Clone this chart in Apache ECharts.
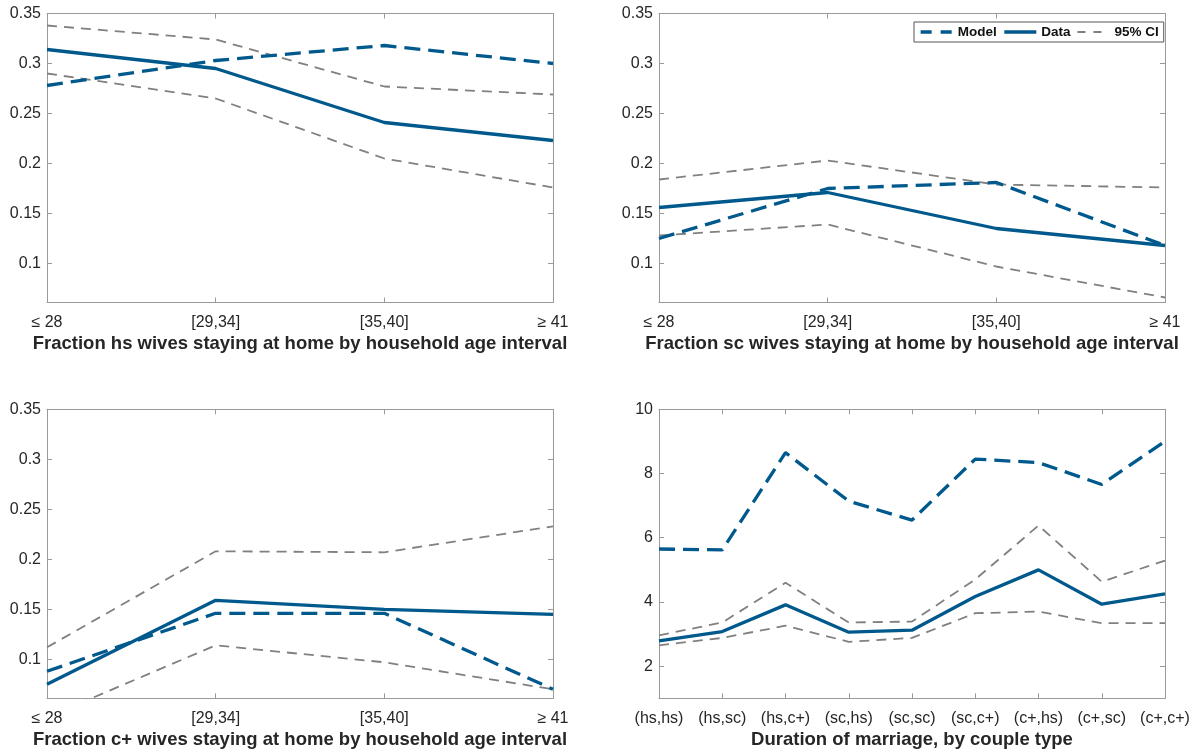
<!DOCTYPE html>
<html>
<head>
<meta charset="utf-8">
<script src="https://cdn.jsdelivr.net/npm/echarts@6/dist/echarts.min.js"></script>
<style>
  html, body { margin: 0; padding: 0; background: #fff; }
  #chart { width: 1195px; height: 754px; }
</style>
</head>
<body>
<div id="chart"></div>
<script>
// Categories
const ageIntervals = ['≤ 28', '[29,34]', '[35,40]', '≥ 41'];
const coupleTypes = ['(hs,hs)', '(hs,sc)', '(hs,c+)', '(sc,hs)', '(sc,sc)', '(sc,c+)', '(c+,hs)', '(c+,sc)', '(c+,c+)'];

// Fraction of high-school (hs) wives staying at home
const hsModel = [0.278, 0.303, 0.318, 0.300];
const hsData = [0.314, 0.295, 0.241, 0.223];
const hsCiHigh = [0.338, 0.324, 0.277, 0.269];
const hsCiLow = [0.290, 0.265, 0.205, 0.176];

// Fraction of some-college (sc) wives staying at home
const scModel = [0.125, 0.175, 0.181, 0.118];
const scData = [0.156, 0.171, 0.135, 0.118];
const scCiHigh = [0.184, 0.203, 0.179, 0.176];
const scCiLow = [0.128, 0.139, 0.097, 0.066];

// Fraction of college-plus (c+) wives staying at home
const cpModel = [0.088, 0.146, 0.146, 0.070];
const cpData = [0.075, 0.159, 0.150, 0.145];
const cpCiHigh = [0.112, 0.208, 0.207, 0.233];
const cpCiLow = [0.042, 0.114, 0.097, 0.070];

// Duration of marriage by couple type
const durModel = [5.65, 5.62, 8.65, 7.14, 6.55, 8.45, 8.34, 7.66, 9.00];
const durData = [2.79, 3.08, 3.91, 3.06, 3.12, 4.17, 5.00, 3.93, 4.25];
const durCiHigh = [2.96, 3.36, 4.60, 3.36, 3.39, 4.70, 6.38, 4.63, 5.29];
const durCiLow = [2.65, 2.88, 3.26, 2.76, 2.88, 3.65, 3.70, 3.34, 3.34];

// Tick values
const fracTicks = [0.1, 0.15, 0.2, 0.25, 0.3, 0.35];
const durTicks = [2, 4, 6, 8, 10];

const FONT = 'Liberation Sans, Arial, Helvetica, sans-serif';
const BLUE = '#00598c';
const GRAY = '#808080';
const AXIS = '#9a9a9a';
const TEXT = '#262626';

const panels = [
  { left: 47, top: 13.5, cats: ageIntervals, yMin: 0.061, yMax: 0.35, ticks: fracTicks,
    title: 'Fraction hs wives staying at home by household age interval',
    model: hsModel, data: hsData, hi: hsCiHigh, lo: hsCiLow },
  { left: 659, top: 13.5, cats: ageIntervals, yMin: 0.061, yMax: 0.35, ticks: fracTicks,
    title: 'Fraction sc wives staying at home by household age interval',
    model: scModel, data: scData, hi: scCiHigh, lo: scCiLow },
  { left: 47, top: 409.3, cats: ageIntervals, yMin: 0.061, yMax: 0.35, ticks: fracTicks,
    title: 'Fraction c+ wives staying at home by household age interval',
    model: cpModel, data: cpData, hi: cpCiHigh, lo: cpCiLow },
  { left: 659, top: 409.3, cats: coupleTypes, yMin: 1, yMax: 10, ticks: durTicks,
    title: 'Duration of marriage, by couple type',
    model: durModel, data: durData, hi: durCiHigh, lo: durCiLow }
];

const grid = [], xAxis = [], yAxis = [], series = [];
const tickStyle = { show: true, inside: true, length: 5, lineStyle: { color: AXIS, width: 1 } };
const lineAxis = { show: true, lineStyle: { color: AXIS, width: 1 } };

panels.forEach((p, i) => {
  grid.push({ left: p.left, top: p.top, width: 506, height: 289, containLabel: false });
  // bottom and top x axes (top one mirrors the ticks to close the box)
  xAxis.push({
    gridIndex: i, type: 'category', data: p.cats, boundaryGap: false, position: 'bottom',
    axisLine: lineAxis, axisTick: tickStyle, splitLine: { show: false },
    axisLabel: { margin: 12, fontSize: 16, color: TEXT, fontFamily: FONT, interval: 0 },
    name: p.title, nameLocation: 'middle', nameGap: 32,
    nameTextStyle: { fontWeight: 'bold', fontSize: 18.5, color: TEXT, fontFamily: FONT }
  });
  xAxis.push({
    gridIndex: i, type: 'category', data: p.cats, boundaryGap: false, position: 'top',
    axisLine: lineAxis, axisTick: tickStyle, axisLabel: { show: false }, splitLine: { show: false }
  });
  // left and right y axes
  yAxis.push({
    gridIndex: i, type: 'value', min: p.yMin, max: p.yMax, position: 'left',
    axisLine: lineAxis,
    axisTick: Object.assign({}, tickStyle, { customValues: p.ticks }),
    axisLabel: { customValues: p.ticks, margin: 6, fontSize: 16, color: TEXT, fontFamily: FONT },
    splitLine: { show: false }
  });
  yAxis.push({
    gridIndex: i, type: 'value', min: p.yMin, max: p.yMax, position: 'right',
    axisLine: lineAxis,
    axisTick: Object.assign({}, tickStyle, { customValues: p.ticks }),
    axisLabel: { show: false }, splitLine: { show: false }
  });

  const base = { type: 'line', xAxisIndex: 2 * i, yAxisIndex: 2 * i, symbol: 'none',
                 showSymbol: false, clip: true, silent: true };
  series.push(Object.assign({}, base, { name: '95% CI', data: p.hi, z: 2,
    lineStyle: { color: GRAY, width: 1.8, type: [10, 7] }, itemStyle: { color: GRAY } }));
  series.push(Object.assign({}, base, { name: '95% CI', data: p.lo, z: 2,
    lineStyle: { color: GRAY, width: 1.8, type: [10, 7] }, itemStyle: { color: GRAY } }));
  series.push(Object.assign({}, base, { name: 'Model', data: p.model, z: 3,
    lineStyle: { color: BLUE, width: 3.3, type: [16, 8] }, itemStyle: { color: BLUE } }));
  series.push(Object.assign({}, base, { name: 'Data', data: p.data, z: 4,
    lineStyle: { color: BLUE, width: 3.3, type: 'solid' }, itemStyle: { color: BLUE } }));
});

const chart = echarts.init(document.getElementById('chart'), null, { renderer: 'canvas' });
chart.setOption({
  animation: false,
  backgroundColor: '#ffffff',
  textStyle: { fontFamily: FONT },
  legend: {
    data: [
      { name: 'Model', lineStyle: { width: 3.3, type: [11, 9] } },
      { name: 'Data', lineStyle: { width: 3.3 } },
      { name: '95% CI', lineStyle: { width: 1.8, type: [8, 8] } }
    ],
    left: 914, top: 22,
    orient: 'horizontal',
    itemWidth: 32, itemHeight: 12, itemGap: 6,
    padding: [3, 5],
    borderColor: '#555', borderWidth: 1, backgroundColor: '#fff',
    selectedMode: false,
    itemStyle: { opacity: 0, borderWidth: 0 },
    textStyle: { fontWeight: 'bold', fontSize: 13.5, color: '#111', fontFamily: FONT }
  },
  grid, xAxis, yAxis, series
});
</script>
</body>
</html>
